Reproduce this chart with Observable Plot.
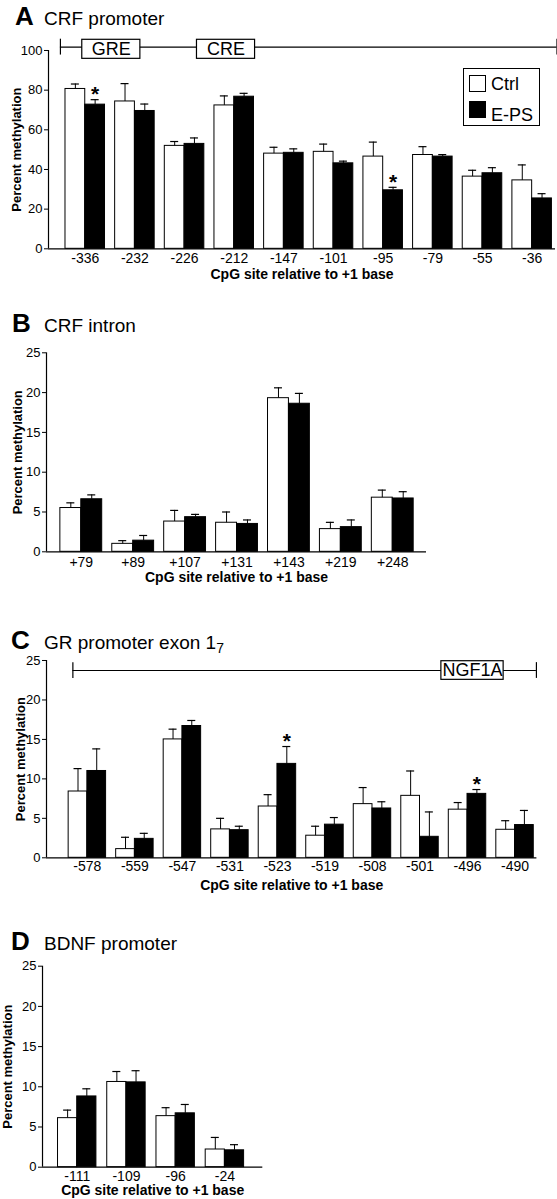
<!DOCTYPE html>
<html><head><meta charset="utf-8">
<script src="https://cdn.jsdelivr.net/npm/d3@7"></script>
<script src="https://cdn.jsdelivr.net/npm/@observablehq/plot@0.6"></script>
<style>
body{margin:0;background:#fff;font-family:"Liberation Sans",Arial,Helvetica,sans-serif;}
#page{position:relative;width:557px;height:1199px;overflow:hidden;background:#fff}
.abs{position:absolute;line-height:1;white-space:nowrap;color:#000}
.letter{font-weight:bold;font-size:26px}
.ttl{font-size:19px}
.panel{position:absolute;left:0}
.panel svg g[aria-label^="y-axis"], .panel svg g[aria-label^="y-axis"] text{font-size:13px !important;font-family:"Liberation Sans",Arial,Helvetica,sans-serif !important}
.panel svg g[aria-label^="x-axis"], .panel svg g[aria-label^="x-axis"] text{font-size:14px !important;font-family:"Liberation Sans",Arial,Helvetica,sans-serif !important}
.legend{position:absolute;border:1.5px solid #000;background:#fff;box-sizing:border-box}
.sw{position:absolute;width:17px;height:17px;box-sizing:border-box;border:1px solid #000}
.lt{position:absolute;font-size:18px;line-height:1}
</style></head><body><div id="page"></div>
<script>
// ---------- DATA ----------
const xTitle = "CpG site relative to +1 base";
const yTitle = "Percent methylation";
const seriesNames = ["Ctrl", "E-PS"];

// A: CRF promoter
const sitesA   = ["-336","-232","-226","-212","-147","-101","-95","-79","-55","-36"];
const ctrlA    = [80.6, 74.3, 51.9, 72.3, 48.0, 48.9, 46.5, 47.3, 36.4, 34.5];
const ctrlSemA = [2.5, 9.0, 2.2, 4.8, 3.2, 3.9, 7.3, 4.2, 3.2, 7.8];
const epsA     = [72.7, 69.5, 52.9, 76.7, 48.4, 43.1, 29.5, 46.5, 38.1, 25.4];
const epsSemA  = [2.5, 3.5, 3.0, 1.7, 2.0, 1.1, 1.5, 1.0, 2.8, 2.4];
const sigA     = ["-336","-95"];
const ticksA   = [0, 20, 40, 60, 80, 100];
const elementsA = [{label:"GRE", from:-0.06, to:1.11}, {label:"CRE", from:2.25, to:3.42}];

// B: CRF intron
const sitesB   = ["+79","+89","+107","+131","+143","+219","+248"];
const ctrlB    = [5.5, 1.0, 3.8, 3.65, 19.3, 2.85, 6.8];
const ctrlSemB = [0.65, 0.4, 1.4, 1.35, 1.3, 0.85, 0.95];
const epsB     = [6.6, 1.4, 4.35, 3.5, 18.6, 3.1, 6.7];
const epsSemB  = [0.55, 0.65, 0.35, 0.5, 1.3, 0.9, 0.85];
const sigB     = [];
const ticks25  = [0, 5, 10, 15, 20, 25];

// C: GR promoter exon 1_7
const sitesC   = ["-578","-559","-547","-531","-523","-519","-508","-501","-496","-490"];
const ctrlC    = [8.4, 1.1, 15.0, 3.6, 6.5, 2.8, 6.8, 7.85, 6.1, 3.55];
const ctrlSemC = [2.9, 1.5, 1.3, 1.4, 1.5, 1.2, 2.1, 3.15, 0.9, 1.15];
const epsC     = [11.0, 2.4, 16.7, 3.5, 11.9, 4.2, 6.25, 2.66, 8.1, 4.15];
const epsSemC  = [2.8, 0.7, 0.7, 0.5, 2.2, 0.9, 0.85, 3.15, 0.55, 1.85];
const sigC     = ["-523","-496"];
const elementsC = [{label:"NGF1A", from:7.45, to:8.76}];

// D: BDNF promoter
const sitesD   = ["-111","-109","-96","-24"];
const ctrlD    = [6.1, 10.6, 6.35, 2.2];
const ctrlSemD = [1.0, 1.3, 1.05, 1.5];
const epsD     = [8.8, 10.55, 6.7, 2.1];
const epsSemD  = [0.95, 1.45, 1.1, 0.7];
const sigD     = [];

// ---------- LAYOUT / STYLE ----------
const FONT = '"Liberation Sans", Arial, Helvetica, sans-serif';
const W = 557;
const page = document.getElementById("page");

function addTitle(letter, html, baseline, letterLeft) {
  const a = document.createElement("div");
  a.className = "abs letter"; a.textContent = letter;
  a.style.left = letterLeft + "px"; a.style.top = (baseline - 0.8465 * 26) + "px";
  page.appendChild(a);
  const t = document.createElement("div");
  t.className = "abs ttl"; t.innerHTML = html;
  t.style.left = "44px"; t.style.top = (baseline - 0.8465 * 19) + "px";
  page.appendChild(t);
}

function panel(cfg) {
  const rows = cfg.sites.map((s, i) => ({
    i, site: s, ctrl: cfg.ctrl[i], cs: cfg.ctrlSem[i], eps: cfg.eps[i], es: cfg.epsSem[i],
    sig: cfg.sig.includes(s)
  }));
  const step = (W - cfg.ml - cfg.mr) / (cfg.xDomain[1] - cfg.xDomain[0]);
  const hb = cfg.halfBar;
  const cap = 4 / step;
  const marks = [
    Plot.rect(rows, {x1: d => d.i - hb, x2: d => d.i, y1: () => 0, y2: d => d.ctrl, fill: "white", stroke: "black", strokeWidth: 1}),
    Plot.rect(rows, {x1: d => d.i, x2: d => d.i + hb, y1: () => 0, y2: d => d.eps, fill: "black", stroke: "black", strokeWidth: 1}),
    Plot.ruleX(rows, {x: d => d.i - hb / 2, y1: d => d.ctrl, y2: d => d.ctrl + d.cs, stroke: "black", strokeWidth: 1}),
    Plot.ruleY(rows, {y: d => d.ctrl + d.cs, x1: d => d.i - hb / 2 - cap, x2: d => d.i - hb / 2 + cap, stroke: "black", strokeWidth: 1.2}),
    Plot.ruleX(rows, {x: d => d.i + hb / 2, y1: d => d.eps, y2: d => d.eps + d.es, stroke: "black", strokeWidth: 1}),
    Plot.ruleY(rows, {y: d => d.eps + d.es, x1: d => d.i + hb / 2 - cap, x2: d => d.i + hb / 2 + cap, stroke: "black", strokeWidth: 1.2}),
    Plot.text(rows.filter(d => d.sig), {x: d => d.i + hb / 2, y: d => d.eps + d.es, text: () => "*", dy: -5, fontSize: 21, fontWeight: "bold", fill: "black"}),
    Plot.ruleY([0], {stroke: "black", strokeWidth: 1.2}),
    Plot.ruleX([cfg.xDomain[0]], {stroke: "black", strokeWidth: 1.2}),
    Plot.text([yTitle], {text: d => d, frameAnchor: "left", textAnchor: "middle", lineAnchor: "middle", rotate: -90, dx: cfg.yLabelDx, fontWeight: "bold", fontSize: 13, fill: "black"}),
    Plot.text([xTitle], {text: d => d, frameAnchor: "bottom", textAnchor: "middle", lineAnchor: "middle", dy: cfg.titleDy, fontWeight: "bold", fontSize: 14, fill: "black"})
  ];
  if (cfg.map) {
    const m = cfg.map;
    marks.push(
      Plot.ruleY([m.y], {x1: m.extent[0], x2: m.extent[1], stroke: "black", strokeWidth: 1.2}),
      Plot.ruleX(m.extent, {y1: m.y - m.endHalf, y2: m.y + m.endHalf, stroke: "black", strokeWidth: 1.2}),
      Plot.rect(m.elements, {x1: "from", x2: "to", y1: m.boxLo, y2: m.boxHi, fill: "white", stroke: "black", strokeWidth: 1.2}),
      Plot.text(m.elements, {x: d => (d.from + d.to) / 2, y: (m.boxLo + m.boxHi) / 2, text: "label", fontSize: 18, fill: "black"})
    );
  }
  const H = cfg.frameBottom + cfg.mb - cfg.svgTop;
  const svg = Plot.plot({
    width: W, height: H,
    marginTop: cfg.frameTop - cfg.svgTop, marginBottom: cfg.mb,
    marginLeft: cfg.ml, marginRight: cfg.mr,
    style: {fontFamily: FONT, fontSize: "13px", background: "transparent", overflow: "visible", color: "black"},
    x: {type: "linear", domain: cfg.xDomain, ticks: d3.range(cfg.sites.length), tickFormat: i => cfg.sites[i], tickSize: 0, tickPadding: cfg.labelPad, label: null},
    y: {domain: [0, cfg.yMax], ticks: cfg.yTicks, tickSize: 4, tickPadding: 2, label: null},
    marks
  });
  const holder = document.createElement("div");
  holder.className = "panel";
  holder.style.top = cfg.svgTop + "px";
  holder.appendChild(svg);
  page.appendChild(holder);
}

// Titles
addTitle("A", "CRF promoter", 25, 15);
addTitle("B", "CRF intron", 332, 12);
addTitle("C", 'GR promoter exon 1<span style="font-size:14px;vertical-align:-4px">7</span>', 649.5, 11);
addTitle("D", "BDNF promoter", 950, 11);

panel({sites: sitesA, ctrl: ctrlA, ctrlSem: ctrlSemA, eps: epsA, epsSem: epsSemA, sig: sigA,
  yMax: 100, yTicks: ticksA, svgTop: 28, frameTop: 50, frameBottom: 248.3, mb: 40,
  ml: 48, mr: 2, xDomain: [-0.74, 9.47], halfBar: 0.398, labelPad: 4.2, titleDy: 25.5, yLabelDx: -32,
  map: {extent: [-0.5, 9.5], y: 101.7, endHalf: 4, boxLo: 95.8, boxHi: 105.4, elements: elementsA}});

panel({sites: sitesB, ctrl: ctrlB, ctrlSem: ctrlSemB, eps: epsB, epsSem: epsSemB, sig: sigB,
  yMax: 25, yTicks: ticks25, svgTop: 340, frameTop: 352.3, frameBottom: 551.3, mb: 34,
  ml: 46, mr: 131, xDomain: [-0.67, 6.65], halfBar: 0.403, labelPad: 5.5, titleDy: 25.5, yLabelDx: -29});

panel({sites: sitesC, ctrl: ctrlC, ctrlSem: ctrlSemC, eps: epsC, epsSem: epsSemC, sig: sigC,
  yMax: 25, yTicks: ticks25, svgTop: 655, frameTop: 660, frameBottom: 857.3, mb: 36,
  ml: 46, mr: 20.6, xDomain: [-0.86, 9.46], halfBar: 0.394, labelPad: 3.7, titleDy: 27.7, yLabelDx: -26,
  map: {extent: [-0.305, 9.45], y: 23.73, endHalf: 1.0, boxLo: 22.55, boxHi: 24.91, elements: elementsC}});

panel({sites: sitesD, ctrl: ctrlD, ctrlSem: ctrlSemD, eps: epsD, epsSem: epsSemD, sig: sigD,
  yMax: 25, yTicks: ticks25, svgTop: 955, frameTop: 965.7, frameBottom: 1166.7, mb: 30,
  ml: 42, mr: 294.7, xDomain: [-0.705, 3.77], halfBar: 0.39, labelPad: 4.0, titleDy: 23.5, yLabelDx: -35});

// Legend (panel A)
const lg = document.createElement("div");
lg.className = "legend";
Object.assign(lg.style, {left: "463px", top: "68px", width: "77px", height: "58px"});
page.appendChild(lg);
const legendItems = [
  {name: seriesNames[0], fill: "#fff", sq: 75, txt: 90},
  {name: seriesNames[1], fill: "#000", sq: 101, txt: 121.5}
];
for (const it of legendItems) {
  const s = document.createElement("div");
  s.className = "sw"; s.style.background = it.fill;
  s.style.left = "469px"; s.style.top = it.sq + "px";
  page.appendChild(s);
  const t = document.createElement("div");
  t.className = "lt"; t.textContent = it.name;
  t.style.left = "491px"; t.style.top = (it.txt - 0.8465 * 18) + "px";
  page.appendChild(t);
}
</script></body></html>
